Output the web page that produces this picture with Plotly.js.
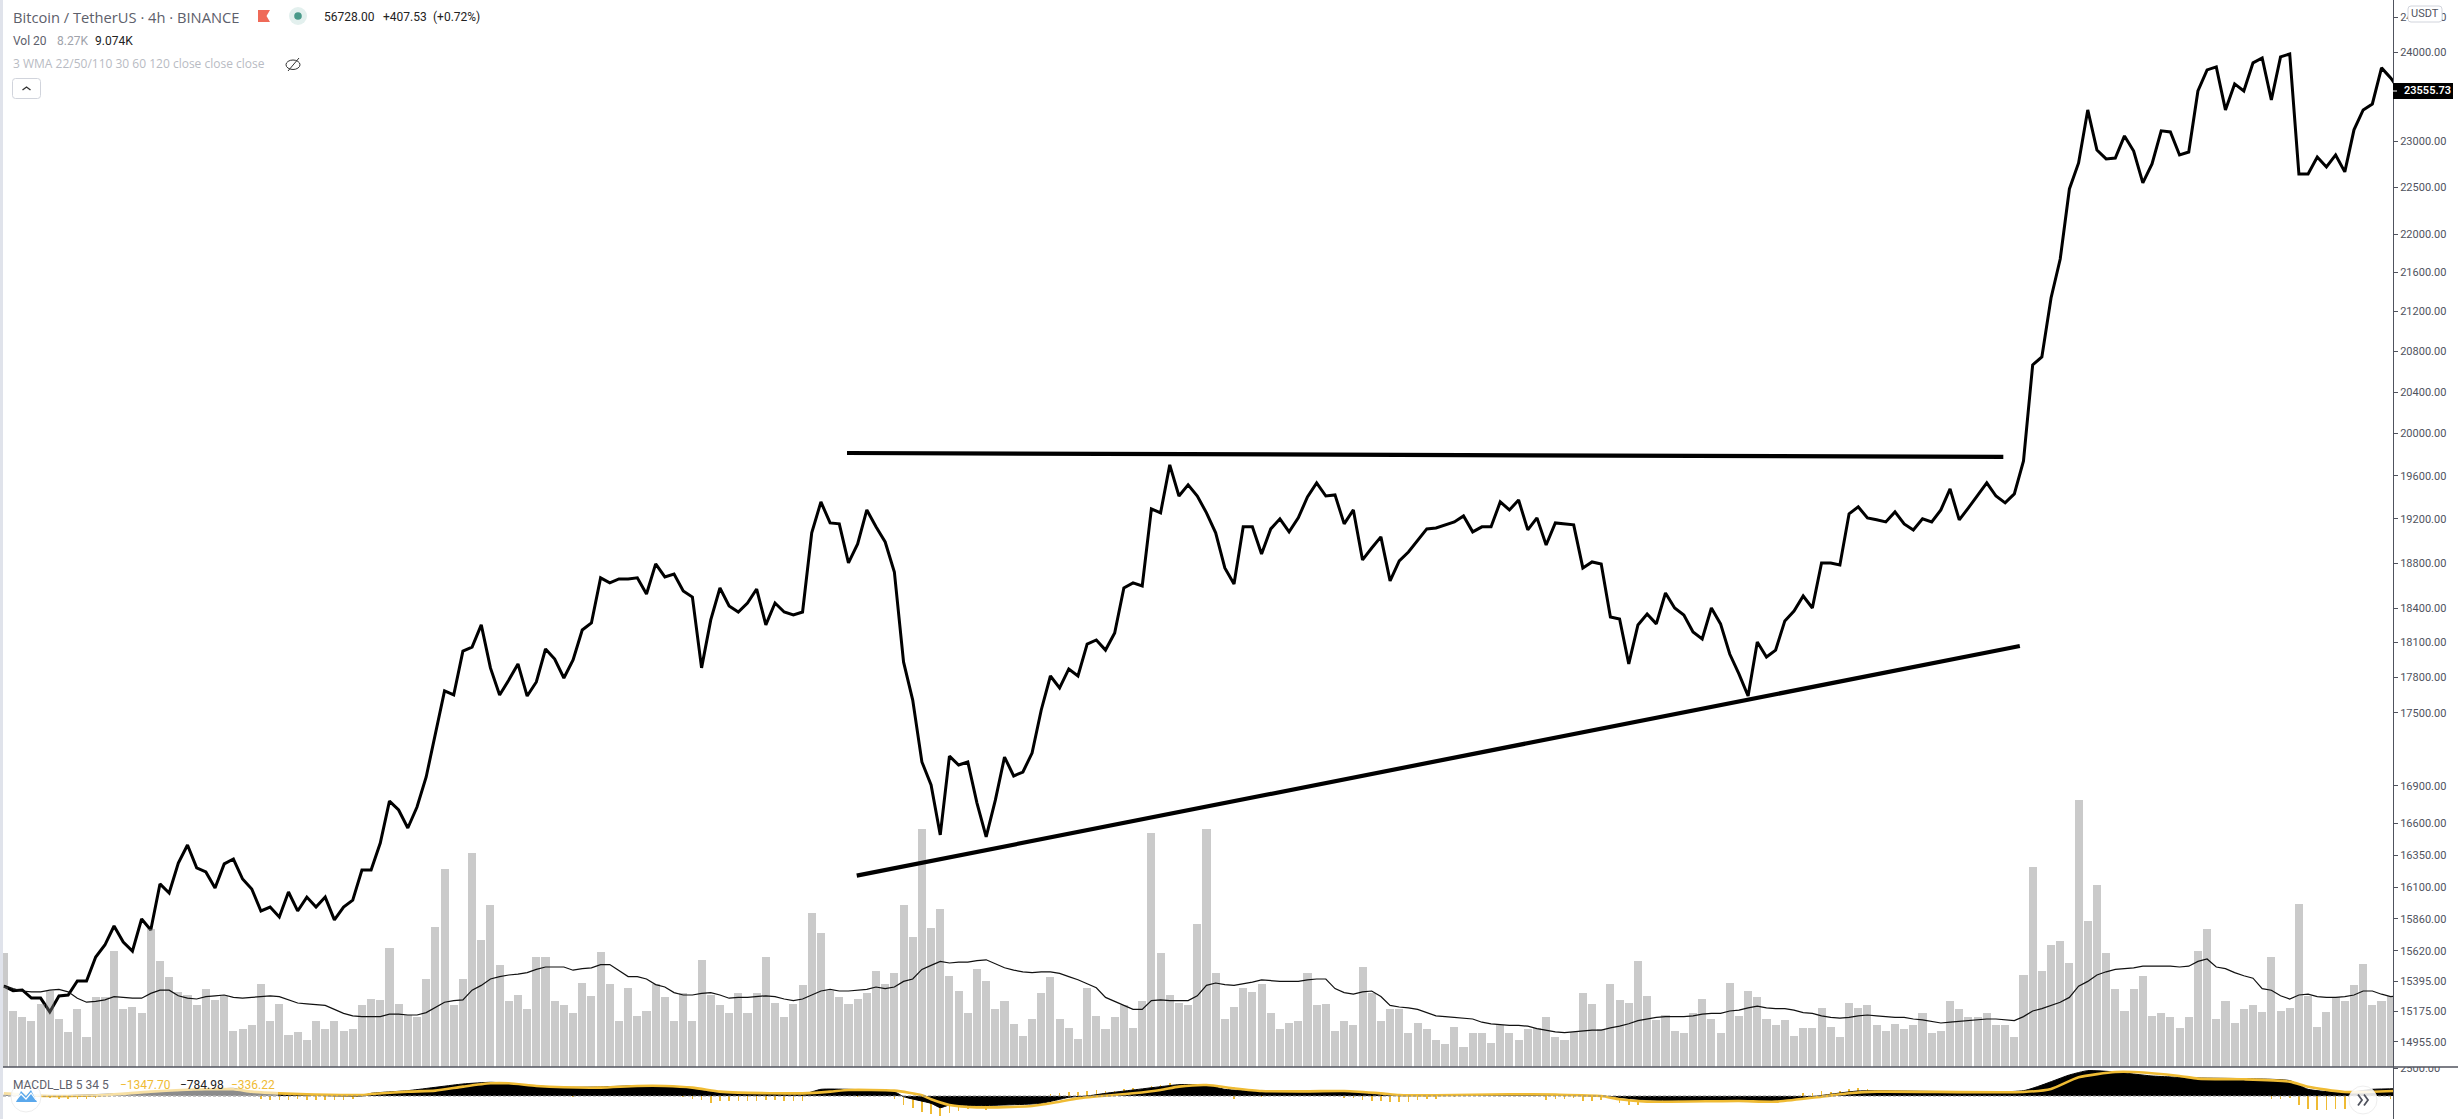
<!DOCTYPE html>
<html><head><meta charset="utf-8">
<script src="https://cdn.plot.ly/plotly-3.0.1.min.js"></script>
<style>html,body{margin:0;padding:0;background:#fff;overflow:hidden}#c{width:2458px;height:1119px}</style>
</head><body><div id="c"></div>
<script>
const closeValues=[
15359,15325,15330,15271,15271,15170,15286,15293,15396,15396,
15573,15663,15806,15685,15618,15859,15776,16127,16057,16289,
16430,16251,16220,16096,16282,16320,16165,16088,15920,15950,
15874,16065,15920,16026,15950,16026,15852,15950,16003,16235,
16235,16445,16778,16707,16564,16731,16973,17333,17685,17651,
18025,18060,18252,17881,17651,17778,17915,17642,17761,18043,
17957,17795,17949,18208,18269,18667,18622,18658,18658,18667,
18524,18792,18676,18702,18550,18497,17881,18296,18577,18418,
18365,18444,18568,18252,18444,18365,18339,18365,19073,19357,
19164,19155,18801,18972,19283,19128,18990,18720,17932,17608,
17095,16908,16509,17143,17070,17095,16762,16493,16786,17135,
16981,17013,17168,17525,17812,17710,17872,17812,18086,18121,
18034,18182,18577,18622,18595,19293,19256,19703,19412,19515,
19412,19256,19073,18756,18613,19128,19128,18881,19109,19201,
19082,19210,19403,19534,19412,19422,19155,19283,18828,18935,
19036,18640,18819,18899,19008,19109,19118,19146,19173,19228,
19082,19128,19128,19357,19283,19375,19100,19210,18963,19164,
19155,19146,18756,18810,18792,18322,18304,17915,18252,18348,
18261,18533,18400,18339,18191,18130,18400,18261,18000,17830,
17642,18104,17974,18034,18287,18374,18506,18400,18801,18801,
18783,19247,19311,19210,19192,19173,19265,19155,19100,19201,
19173,19283,19478,19192,19302,19412,19534,19412,19348,19431,
19740,20667,20746,21339,21740,22480,22761,23345,22902,22805,
22815,23057,22891,22545,22750,23113,23101,22848,22880,23558,
23796,23830,23345,23637,23558,23876,23932,23456,23944,23978,
22642,22642,22826,22718,22848,22664,23124,23345,23412,23819,23705,23555.73];
const volumeK=[
14.2,7.0,6.2,5.8,7.9,9.5,6.0,4.4,7.3,3.8,
8.8,8.8,14.5,7.3,7.5,6.7,17.2,13.3,11.2,9.4,
9.0,7.7,9.8,8.4,8.9,4.5,4.7,5.3,10.4,5.8,
7.9,4.0,4.4,3.4,5.7,4.7,5.7,4.5,4.7,7.7,
8.5,8.4,14.9,7.9,6.5,6.2,11.0,17.5,24.8,7.7,
11.0,26.7,15.9,20.2,12.8,8.3,9.0,7.3,13.7,13.7,
8.3,7.7,6.7,10.5,8.9,14.4,10.4,5.8,9.9,6.4,
7.0,10.4,8.8,5.7,9.3,5.8,13.4,9.0,7.8,6.7,
9.3,6.7,9.2,13.8,8.0,6.3,7.9,10.3,19.3,16.7,
9.5,8.7,7.9,8.5,9.2,12.0,10.4,11.8,20.3,16.3,
29.8,17.4,19.8,11.4,9.5,6.7,12.3,10.8,7.2,8.2,
5.4,3.9,6.0,9.3,11.2,6.0,4.9,3.5,9.9,6.4,
4.8,6.3,7.7,4.9,8.3,29.2,14.2,9.0,8.0,7.8,
17.9,29.8,11.8,6.0,7.5,9.9,9.4,10.4,6.7,4.8,
5.5,5.7,11.7,7.7,7.9,4.5,5.7,5.2,12.5,9.3,
5.7,7.3,7.3,4.2,5.5,4.7,3.4,2.9,5.0,2.5,
4.2,4.2,3.0,5.3,4.2,3.4,4.7,4.9,6.2,3.7,
3.4,4.4,9.3,7.9,4.7,10.4,8.4,8.0,13.3,8.9,
5.9,6.5,4.5,4.2,6.8,8.5,6.0,4.2,10.5,6.4,
9.5,8.8,6.0,5.3,5.9,3.9,4.9,4.9,7.4,5.0,
3.8,8.0,7.4,7.7,5.3,4.5,5.4,4.8,5.2,6.7,
4.2,4.5,8.3,7.2,6.3,6.3,6.7,5.2,5.3,3.8,
11.5,25.0,12.0,15.3,15.7,13.0,33.4,18.3,22.8,14.2,
9.7,7.0,9.8,11.4,6.4,6.7,6.2,4.9,6.2,14.5,
17.3,6.0,8.2,5.5,7.2,7.8,6.9,13.8,7.0,7.4,
20.4,8.9,5.0,6.9,8.7,8.3,10.3,12.9,7.7,8.2,8.9,9.9];
const volumeMA=[
10.2,9.8,9.5,9.4,9.4,9.6,9.7,9.4,8.6,8.1,
8.2,8.4,8.8,8.7,8.6,8.6,9.2,9.6,9.6,8.9,
8.6,8.5,8.8,8.9,9.0,8.7,8.6,8.7,8.8,8.9,
8.8,8.4,8.0,7.9,7.8,7.7,7.2,6.7,6.4,6.3,
6.3,6.3,6.6,6.6,6.5,6.5,6.8,7.4,8.1,8.3,
8.4,9.6,10.2,11.0,11.3,11.5,11.6,11.8,12.2,12.5,
12.5,12.5,12.1,12.3,12.4,12.8,12.8,12.1,11.3,11.3,
11.0,10.3,10.0,9.3,9.0,9.0,9.2,9.3,9.0,8.6,
8.7,8.7,8.8,8.9,8.8,8.5,8.3,8.5,9.0,9.5,
9.7,9.5,9.5,9.6,9.7,10.0,9.8,10.0,10.7,11.0,
12.2,12.7,13.2,13.0,13.1,13.1,13.3,13.4,12.9,12.4,
12.1,11.9,11.8,11.9,11.9,11.7,11.3,10.9,10.4,9.9,
8.7,8.2,7.6,7.2,7.2,8.3,8.4,8.3,8.3,8.3,
8.9,10.2,10.5,10.3,10.2,10.4,10.6,10.9,10.8,10.7,
10.7,10.7,10.9,11.0,11.0,9.8,9.3,9.1,9.4,9.5,
8.8,7.7,7.5,7.4,7.2,6.8,6.4,6.3,6.2,6.1,
6.0,5.6,5.4,5.3,5.2,5.2,5.1,4.8,4.6,4.4,
4.3,4.4,4.5,4.6,4.6,4.9,5.1,5.4,5.8,6.0,
6.2,6.3,6.3,6.3,6.4,6.6,6.7,6.7,7.0,7.1,
7.4,7.6,7.4,7.3,7.3,7.1,6.8,6.7,6.4,6.2,
6.1,6.2,6.4,6.5,6.4,6.3,6.2,6.2,6.0,5.9,
5.7,5.5,5.6,5.7,5.8,5.9,6.0,6.0,5.9,5.8,
6.3,7.0,7.3,7.7,8.1,8.7,10.1,10.7,11.5,11.9,
12.2,12.3,12.4,12.6,12.6,12.6,12.6,12.5,12.6,13.2,
13.5,12.5,12.3,11.8,11.4,11.1,9.8,9.6,8.9,8.5,
9.0,9.1,8.8,8.7,8.7,8.8,9.0,9.5,9.5,9.1,8.8,8.9];
const signalIdx=[0,5,11,16,22,25,27,30,33,39,40,44,47,50,53,55,58,61,65,69,72,75,78,80,87,90,92,97,100,101,103,106,112,115,117,123,126,128,131,134,137,142,146,150,152,156,164,169,174,176,179,189,193,198,201,204,220,223,226,230,232,237,239,244,249,251,255,261];
const signalVal=[238,0,89,387,596,596,387,238,149,89,179,387,477,834,1132,1132,894,775,745,894,894,745,387,298,238,387,536,477,60,-298,-805,-1013,-894,-507,-209,238,536,834,983,685,447,417,447,238,89,60,149,119,0,-298,-507,-447,-507,-60,238,387,358,626,1669,2146,2146,1788,1550,1490,1281,834,358,477];
const macdIdx=[0,5,22,25,27,33,39,40,44,50,53,55,58,61,65,69,72,75,77,80,87,89,92,97,98,101,102,103,106,113,116,118,120,123,126,128,131,133,137,142,146,150,152,156,164,174,179,192,197,202,220,225,227,230,234,239,244,249,251,255,258,261];
const macdVal=[100,0,536,685,327,89,0,238,477,1073,1222,1132,894,775,805,924,894,745,387,238,149,596,596,387,-60,-656,-1043,-805,-864,-656,-119,0,238,536,834,1013,983,596,387,328,387,119,30,60,89,0,-358,-477,-60,447,477,1877,2265,2146,1788,1609,1550,1371,596,298,596,656];
const histIdx=[5,6,7,8,9,10,28,29,30,31,32,33,34,35,36,37,38,62,74,75,76,77,78,79,80,81,82,83,84,85,86,87,93,97,98,99,100,101,102,103,104,105,107,114,115,116,117,118,119,120,121,122,123,124,125,126,127,134,137,146,147,148,149,150,151,152,153,154,155,156,158,168,169,170,171,172,173,174,176,177,178,196,197,198,199,200,201,202,203,204,247,248,249,250,251,252,253,254,255,260];
const histVal=[-200,-270,-270,-240,-240,-210,-300,-330,-360,-330,-300,-330,-330,-330,-360,-330,-300,-120,-120,-298,-358,-596,-477,-477,-447,-417,-417,-358,-387,-477,-417,-417,-120,-298,-805,-1103,-1400,-1609,-1788,-1490,-1311,-1132,-1222,179,298,358,358,447,536,447,417,626,715,596,894,1013,1132,-268,-119,-149,-149,-358,-447,-477,-536,-536,-536,-328,-268,-238,-119,-328,-238,-238,-209,-417,-417,-387,-656,-834,-805,268,298,447,387,477,626,715,626,536,-238,-238,-179,-805,-1162,-1222,-1252,-1162,-1162,-268];
const priceTicks=[24400,24000,23000,22500,22000,21600,21200,20800,20400,20000,19600,19200,18800,18400,18100,17800,17500,16900,16600,16350,16100,15860,15620,15395,15175,14955];
const macdTicks=[2500];
const upperTrendIdx=[91.84,217.8], upperTrendPrice=[19815,19778];
const lowerTrendIdx=[92.9,219.6], lowerTrendPrice=[16191,18069];
const lastPrice='23555.73';

const idx=closeValues.map((_,i)=>i);
const H=1119,L=3,R=2393;
const px=x=>(x-L)/(R-L), py=y=>1-y/H;
const axisC='#50535e';
const tickF={family:'Roboto, sans-serif',size:11,color:axisC};

const traces=[
 {type:'scatter',mode:'lines',x:idx,y:closeValues,xaxis:'x',yaxis:'y',line:{color:'#000',width:3},hoverinfo:'skip',showlegend:false},
 {type:'bar',x:idx,y:volumeK,xaxis:'x',yaxis:'y2',width:0.88,marker:{color:'rgba(128,128,128,0.42)',line:{width:0}},hoverinfo:'skip',showlegend:false},
 {type:'scatter',mode:'lines',x:idx,y:volumeMA,xaxis:'x',yaxis:'y2',line:{color:'#111',width:1.2},hoverinfo:'skip',showlegend:false},
 {type:'bar',x:histIdx,y:histVal,xaxis:'x',yaxis:'y3',width:0.17,marker:{color:'#efbb34',line:{width:0}},hoverinfo:'skip',showlegend:false},
 {type:'scatter',mode:'lines',x:macdIdx,y:macdVal,xaxis:'x',yaxis:'y3',fill:'tozeroy',fillcolor:'#000',line:{color:'#000',width:1,shape:'spline',smoothing:0.5},hoverinfo:'skip',showlegend:false},
 {type:'scatter',mode:'lines',x:signalIdx,y:signalVal,xaxis:'x',yaxis:'y3',line:{color:'#efbb34',width:2.6,shape:'spline',smoothing:0.6},hoverinfo:'skip',showlegend:false}
];

function path(pts){return pts.map((p,i)=>(i?'L':'M')+px(p[0])+' '+py(p[1])).join(' ');}
function rrect(x0,y0,x1,y1,r){
 return 'M'+px(x0+r)+' '+py(y0)+' L'+px(x1-r)+' '+py(y0)+' Q'+px(x1)+' '+py(y0)+' '+px(x1)+' '+py(y0+r)+
 ' L'+px(x1)+' '+py(y1-r)+' Q'+px(x1)+' '+py(y1)+' '+px(x1-r)+' '+py(y1)+
 ' L'+px(x0+r)+' '+py(y1)+' Q'+px(x0)+' '+py(y1)+' '+px(x0)+' '+py(y1-r)+
 ' L'+px(x0)+' '+py(y0+r)+' Q'+px(x0)+' '+py(y0)+' '+px(x0+r)+' '+py(y0)+' Z';
}
const paper={xref:'paper',yref:'paper',layer:'above'};
const shape=o=>Object.assign({},paper,o);
function circ(cx,cy,r,fill,line,lw){return shape({type:'circle',x0:px(cx-r),x1:px(cx+r),y0:py(cy+r),y1:py(cy-r),fillcolor:fill,line:{color:line||fill,width:lw===undefined?0:lw}});}
function rect(x0,y0,x1,y1,fill){return shape({type:'rect',x0:px(x0),x1:px(x1),y0:py(y1),y1:py(y0),fillcolor:fill,line:{width:0}});}
function poly(pts,color,w,fill){return shape({type:'path',path:path(pts),line:{color:color,width:w},fillcolor:fill||'rgba(0,0,0,0)'});}

const shapes=[
 {type:'line',xref:'paper',yref:'y3',x0:0,x1:1,y0:0,y1:0,line:{color:'#8a8a8a',width:1,dash:'3px,2px'},layer:'above'},
 {type:'line',xref:'x',yref:'y',x0:upperTrendIdx[0],x1:upperTrendIdx[1],y0:upperTrendPrice[0],y1:upperTrendPrice[1],line:{color:'#000',width:4.2},layer:'above'},
 {type:'line',xref:'x',yref:'y',x0:lowerTrendIdx[0],x1:lowerTrendIdx[1],y0:lowerTrendPrice[0],y1:lowerTrendPrice[1],line:{color:'#000',width:4.2},layer:'above'},
 rect(0,0,3,H,'#e0e3eb'),
 rect(2394,1056,2458,1067,'#fff'),
 poly([[3,1067],[2458,1067]],axisC,1.4),
 // flag
 poly([[258,10],[270,10],[266.5,16],[270,22],[258,22]],'#ef6a58',0,'#ef6a58'),
 circ(298,16,9,'#e3f0ee'),
 circ(298,16,3.8,'#4a9a8a'),
 // hidden-eye icon
 shape({type:'circle',x0:px(286),x1:px(300),y0:py(69.5),y1:py(60),line:{color:'#333',width:1},fillcolor:'rgba(0,0,0,0)'}),
 poly([[288,71],[299,58]],'#333',1),
 // collapse button
 shape({type:'path',path:rrect(12.5,78.5,40.5,98.5,3),line:{color:'#d1d4dc',width:1},fillcolor:'#fff'}),
 poly([[22.5,90],[26.5,87],[30.5,90]],'#333',1.4),
 // USDT badge
 shape({type:'path',path:rrect(2408,6,2442,22,3),line:{color:'#d1d4dc',width:1},fillcolor:'#fff'}),
 // last price tag
 rect(2393,83,2453,99,'#000'),
 poly([[2393,91],[2397,91]],'#fff',1),
 // MACD legend backdrop
 rect(4,1074,278,1096,'rgba(255,255,255,0.55)'),
 // logo
 circ(26,1097,15,'rgba(255,255,255,0.85)','#eeeeee',1),
 poly([[16,1102],[21,1091],[26,1096],[31,1090],[37,1102]],'#5aa8ec',0,'#5aa8ec'),
 poly([[16,1100],[21,1094],[26,1099],[31,1093],[36,1100]],'#fff',1.2),
 // scroll button
 circ(2363,1100,14,'rgba(255,255,255,0.88)','#eeeeee',1),
 poly([[2358,1094.5],[2362,1100],[2358,1105.5]],axisC,1.8),
 poly([[2364,1094.5],[2368,1100],[2364,1105.5]],axisC,1.8)
];

function note(x,y,text,color,size,fam,extra){return Object.assign({xref:'paper',yref:'paper',x:px(x),y:py(y),xanchor:'left',yanchor:'middle',text:text,showarrow:false,borderpad:0,
 font:{family:(fam||'Roboto')+', sans-serif',size:size,color:color}},extra||{});}
const annotations=[
 note(12,16.5,'Bitcoin / TetherUS · 4h · BINANCE','#5d606b',14.7,'Open Sans'),
 note(323,17,'56728.00','#222',12),
 note(382,17,'+407.53','#222',12),
 note(432,17,'(+0.72%)','#222',12),
 note(12,41,'Vol 20','#5d606b',12),
 note(56,41,'8.27K','#a0a3ab',12),
 note(94,41,'9.074K','#222',12),
 note(12,64,'3 WMA 22/50/110 30 60 120 close close close','#b8bbc3',12,'Open Sans'),
 note(12,1085,'MACDL_LB 5 34 5','#5d606b',12),
 note(119,1085,'−1347.70','#efbb34',12),
 note(179,1085,'−784.98','#222',12),
 note(230,1085,'−336.22','#efbb34',12),
 note(2425,14,'USDT',axisC,11,'Roboto',{xanchor:'center'}),
 note(2403,91,lastPrice,'#fff',11,'Roboto',{font:{family:'Roboto, sans-serif',size:11,color:'#fff',weight:600}})
];

const dom=(H-1067)/H;
const layout={
 width:2458,height:H,margin:{l:L,r:2458-R,t:0,b:0,pad:0},paper_bgcolor:'#fff',plot_bgcolor:'#fff',showlegend:false,bargap:0,barmode:'overlay',
 font:{family:'Roboto, sans-serif'},
 xaxis:{range:[-0.098,260.25],domain:[0,1],anchor:'y3',showgrid:false,zeroline:false,showticklabels:false,ticks:'',showline:false,fixedrange:true},
 yaxis:{type:'log',domain:[dom,1],range:[4.16956,4.39101],anchor:'x',side:'right',tickmode:'array',tickvals:priceTicks,ticktext:priceTicks.map(v=>v.toFixed(2)),
  tickfont:tickF,ticks:'outside',ticklen:4,tickwidth:1,tickcolor:axisC,showline:true,linecolor:axisC,linewidth:1,showgrid:false,zeroline:false,automargin:false,fixedrange:true},
 yaxis2:{overlaying:'y',domain:[dom,1],range:[0,1067/8],anchor:'x',side:'left',visible:false,showgrid:false,zeroline:false,fixedrange:true},
 yaxis3:{domain:[0,dom],range:[-2054,2589],anchor:'x',side:'right',tickmode:'array',tickvals:macdTicks,ticktext:macdTicks.map(v=>v.toFixed(2)),
  tickfont:tickF,ticks:'outside',ticklen:4,tickwidth:1,tickcolor:axisC,showline:true,linecolor:axisC,linewidth:1,showgrid:false,zeroline:false,automargin:false,fixedrange:true},
 shapes:shapes,annotations:annotations
};
Plotly.newPlot('c',traces,layout,{staticPlot:true,displayModeBar:false});
</script></body></html>
